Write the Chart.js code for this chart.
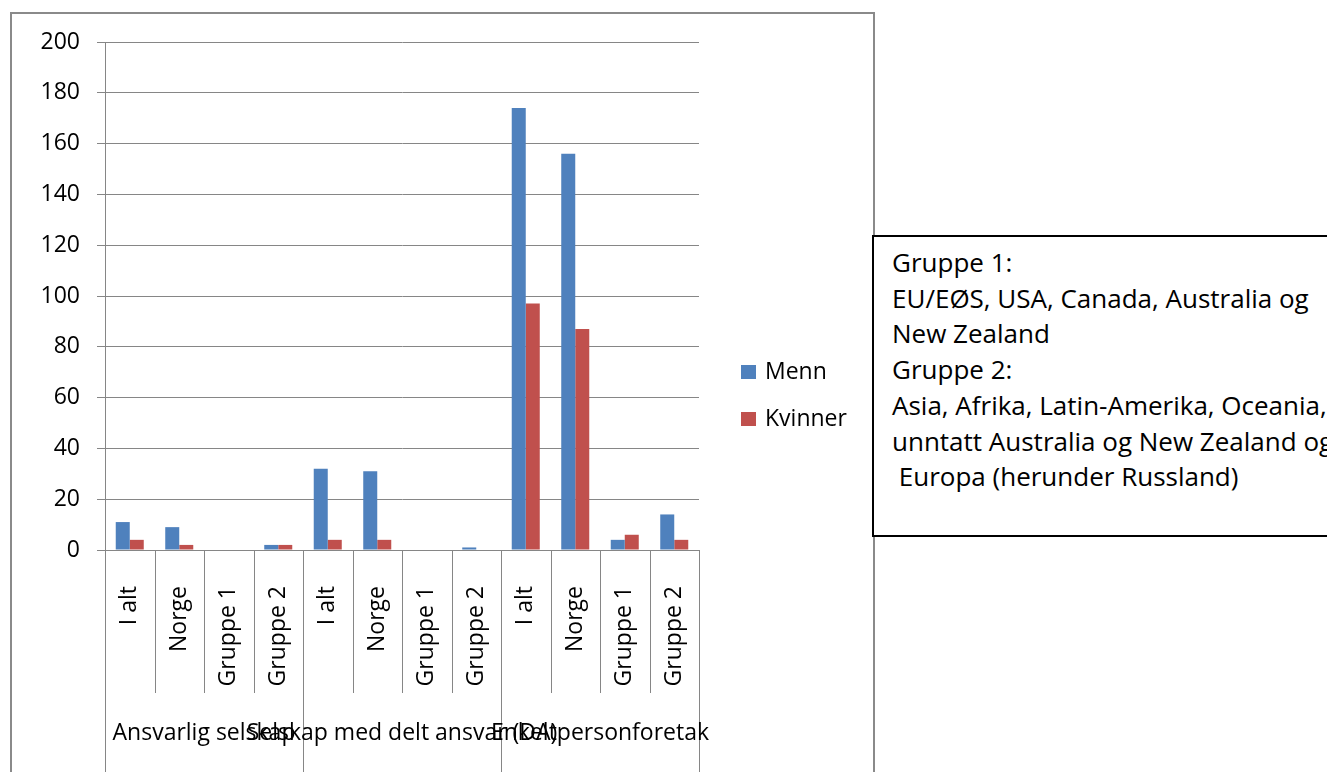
<!DOCTYPE html>
<html>
<head>
<meta charset="utf-8">
<script src="https://cdn.jsdelivr.net/npm/chart.js@4"></script>
<style>
  html, body { margin: 0; padding: 0; background: #fff; }
  body { width: 1327px; height: 772px; overflow: hidden; position: relative; font-family: 'Open Sans', sans-serif; }
  #frame { position: absolute; left: 10px; top: 12px; width: 861px; height: 800px; border: 2px solid #8a8a8a; }
  #chart { position: absolute; left: 0; top: 0; }
  #note {
    position: absolute; left: 872px; top: 235px; width: 520px; height: 302px;
    border: 2px solid #000; background: #fff; box-sizing: border-box;
    padding: 8px 0 0 18px; font-size: 26px; line-height: 35.7px; color: #000; white-space: pre;
  }
</style>
</head>
<body>
<div id="frame"></div>
<canvas id="chart" width="1327" height="772"></canvas>
<div id="note">Gruppe 1:
EU/EØS, USA, Canada, Australia og
New Zealand
Gruppe 2:
Asia, Afrika, Latin-Amerika, Oceania,
unntatt Australia og New Zealand og
 Europa (herunder Russland)</div>
<script>
// === Data ===
const subCategories = ['I alt', 'Norge', 'Gruppe 1', 'Gruppe 2'];
const groups = ['Ansvarlig selskap', 'Selskap med delt ansvar (DA)', 'Enkeltpersonforetak'];
const menn = [11, 9, 0, 2, 32, 31, 0, 1, 174, 156, 4, 14];
const kvinner = [4, 2, 0, 2, 4, 4, 0, 0, 97, 87, 6, 4];
const yTicks = { min: 0, max: 200, step: 20 };

const labels = groups.flatMap(() => subCategories);
const FONT = "'Open Sans', sans-serif";
const GRID = '#868686';

// === Group separators + group labels under the axis ===
const groupAxisPlugin = {
    id: 'groupAxis',
    afterDraw(chart) {
        const ctx = chart.ctx;
        const x = chart.scales.x;
        const bottom = chart.chartArea.bottom;
        const half = (x.getPixelForValue(1) - x.getPixelForValue(0)) / 2;
        ctx.save();
        ctx.strokeStyle = GRID;
        ctx.lineWidth = 1;
        for (let i = 0; i <= labels.length; i++) {
            const px = Math.round(x.getPixelForValue(i) - half) + 0.5;
            const end = i % subCategories.length === 0 ? 772 : 693;
            ctx.beginPath();
            ctx.moveTo(px, bottom);
            ctx.lineTo(px, end);
            ctx.stroke();
        }
        ctx.fillStyle = '#000';
        ctx.font = `23px ${FONT}`;
        ctx.textAlign = 'center';
        ctx.textBaseline = 'alphabetic';
        groups.forEach((g, gi) => {
            const a = x.getPixelForValue(gi * subCategories.length) - half;
            const b = x.getPixelForValue((gi + 1) * subCategories.length - 1) + half;
            ctx.fillText(g, (a + b) / 2, 740);
        });
        ctx.restore();
    }
};

// === Legend drawn at the right of the plot ===
const sideLegendPlugin = {
    id: 'sideLegend',
    afterDraw(chart) {
        const ctx = chart.ctx;
        ctx.save();
        ctx.font = `23px ${FONT}`;
        ctx.textBaseline = 'middle';
        ctx.textAlign = 'left';
        chart.data.datasets.forEach((ds, i) => {
            const cy = 372 + i * 47;
            ctx.fillStyle = ds.backgroundColor;
            ctx.fillRect(741, cy - 7, 15, 14);
            ctx.fillStyle = '#000';
            ctx.fillText(ds.label, 765, cy);
        });
        ctx.restore();
    }
};

new Chart(document.getElementById('chart'), {
    type: 'bar',
    data: {
        labels: labels,
        datasets: [
            { label: 'Menn', data: menn, backgroundColor: '#4F81BD' },
            { label: 'Kvinner', data: kvinner, backgroundColor: '#C0504D' }
        ]
    },
    options: {
        responsive: false,
        devicePixelRatio: 1,
        animation: false,
        layout: { padding: { left: 0, top: 42, right: 628, bottom: 0 } },
        plugins: { legend: { display: false }, tooltip: { enabled: false } },
        datasets: { bar: { categoryPercentage: 0.566, barPercentage: 1 } },
        scales: {
            x: {
                grid: { display: false },
                border: { display: true, color: GRID },
                ticks: {
                    color: '#000', font: { family: FONT, size: 23 },
                    minRotation: 90, maxRotation: 90, autoSkip: false, padding: 28
                },
                afterFit(scale) { scale.height = 222; }
            },
            y: {
                min: yTicks.min, max: yTicks.max,
                grid: { color: GRID, tickLength: 8 },
                border: { color: GRID },
                ticks: { stepSize: yTicks.step, color: '#000', font: { family: FONT, size: 23 }, padding: 17 },
                afterFit(scale) { scale.width = 105; }
            }
        }
    },
    plugins: [groupAxisPlugin, sideLegendPlugin]
});
</script>
</body>
</html>
